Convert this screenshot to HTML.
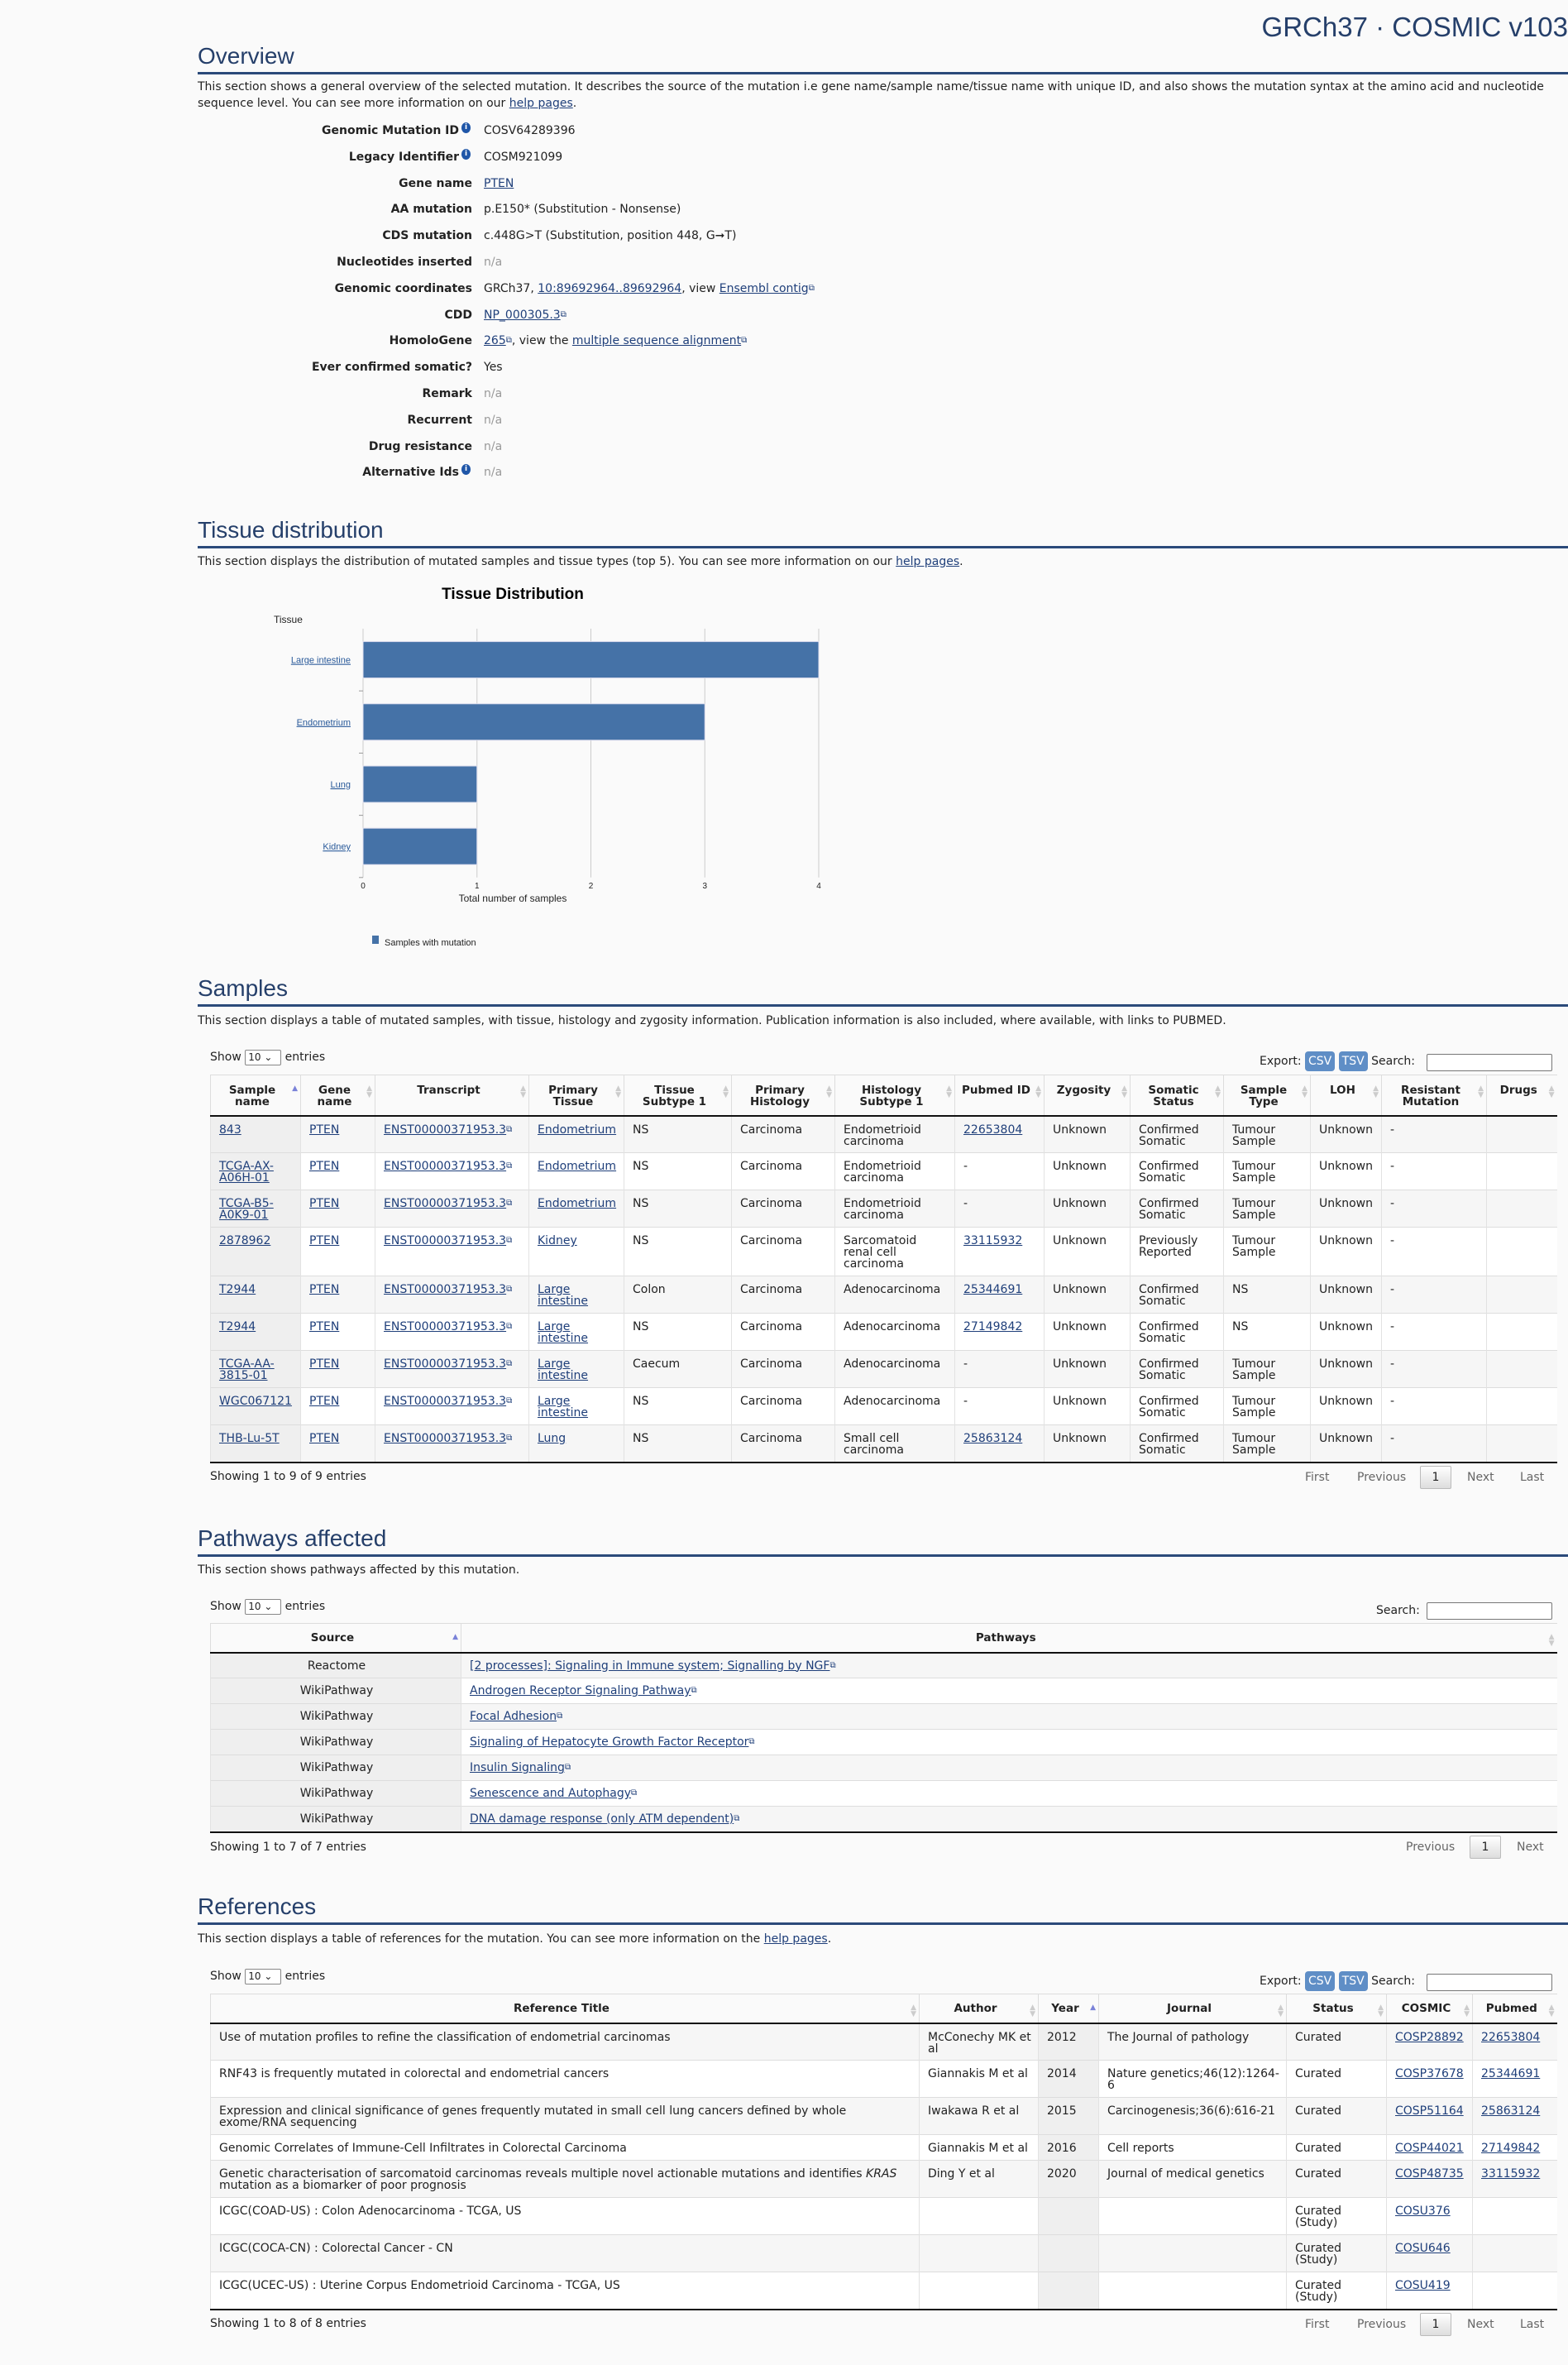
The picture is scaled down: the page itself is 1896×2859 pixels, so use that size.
<!DOCTYPE html>
<html><head><meta charset="utf-8"><style>
*{box-sizing:border-box;margin:0;padding:0}
body{width:1896px;height:2859px;background:#fafafa;font-family:"DejaVu Sans","Liberation Sans",sans-serif;font-size:14px;color:#222;position:relative;overflow:hidden}
a{color:#1f3f7a;text-decoration:underline}
.abs{position:absolute}
.h2{position:absolute;left:239px;width:1657px;height:40px;border-bottom:3px solid #2b4a7a;font-family:"Liberation Sans",sans-serif;font-size:28px;line-height:36px;color:#253f6a}
.desc{position:absolute;left:239px;width:1650px;line-height:20px}
.lab{position:absolute;width:340px;left:231px;text-align:right;font-weight:bold;line-height:20px}
.val{position:absolute;left:585px;line-height:20px}
.na{color:#999}
.info{display:inline-block;width:11px;height:13px;border-radius:50%;background:#1f56a8;color:#fff;font-size:9px;line-height:13px;text-align:center;vertical-align:top;margin-left:3px;font-weight:bold}
.ext{font-size:10px;vertical-align:top;color:#1f3f7a;text-decoration:none}
table{position:absolute;left:254px;width:1628px;border-collapse:collapse;table-layout:fixed;line-height:14px}
th{font-weight:bold;text-align:center;vertical-align:top;padding:11px 14px 0 6px;border-left:1px solid #ddd;border-top:1px solid #ddd;border-bottom:2px solid #111;position:relative;font-size:13.5px}
th .s{position:absolute;right:3px;top:12px;color:#ccc;font-size:9px;line-height:8px}
td{vertical-align:top;padding:9px 8px 0 10px;border-left:1px solid #e2e2e2;border-top:1px solid #ddd;overflow:hidden}
tr.odd td{background:#f6f6f6}
tr.even td{background:#fff}
td.srt{background:#efefef !important}
tr.last td{border-bottom:2px solid #111}
.ctl{position:absolute;line-height:20px}
.sel{display:inline-block;width:44px;height:19px;border:1px solid #888;border-radius:2px;vertical-align:middle;font-size:12px;line-height:17px;padding-left:3px;background:#fff}
.btn{display:inline-block;background:#5f8ec6;color:#fff;border-radius:4px;padding:0 4px;height:24px;line-height:24px;font-size:14px}
.search{position:absolute;width:152px;height:21px;border:1px solid #777;background:#fff;border-radius:2px}
.pg{position:absolute;color:#666;line-height:20px}
.pgb{position:absolute;width:38px;height:28px;border:1px solid #bbb;background:linear-gradient(#fff,#ddd);text-align:center;line-height:26px;border-radius:2px}
</style></head><body>

<div class="abs" style="right:0;top:14px;font-family:'Liberation Sans',sans-serif;font-size:33px;color:#253f6a;white-space:nowrap">GRCh37 · COSMIC v103</div>

<div class="h2" style="top:50px">Overview</div>
<div class="desc" style="top:95px">This section shows a general overview of the selected mutation. It describes the source of the mutation i.e gene name/sample name/tissue name with unique ID, and also shows the mutation syntax at the amino acid and nucleotide sequence level. You can see more information on our <a href="#">help pages</a>.</div>

<div id="ov"></div>

<div class="h2" style="top:623px">Tissue distribution</div>
<div class="desc" style="top:669px">This section displays the distribution of mutated samples and tissue types (top 5). You can see more information on our <a href="#">help pages</a>.</div>

<svg id="chart" class="abs" style="left:0;top:0" width="1896" height="1180" font-family="Liberation Sans, sans-serif"></svg>

<div class="h2" style="top:1177px">Samples</div>
<div class="desc" style="top:1224px">This section displays a table of mutated samples, with tissue, histology and zygosity information. Publication information is also included, where available, with links to PUBMED.</div>
<div class="ctl" style="left:254px;top:1268px">Show <span class="sel">10 ⌄</span> entries</div>
<div class="ctl" style="left:1523px;top:1271px">Export: <span class="btn">CSV</span> <span class="btn">TSV</span> Search:</div>
<div class="search" style="left:1725px;top:1274px"></div>
<table id="samples" style="top:1299px"></table>
<div class="ctl" style="left:254px;top:1775px">Showing 1 to 9 of 9 entries</div>
<div class="pg" style="left:1578px;top:1776px">First</div>
<div class="pg" style="left:1641px;top:1776px">Previous</div>
<div class="pgb" style="left:1717px;top:1772px">1</div>
<div class="pg" style="left:1774px;top:1776px">Next</div>
<div class="pg" style="left:1838px;top:1776px">Last</div>

<div class="h2" style="top:1842px">Pathways affected</div>
<div class="desc" style="top:1888px">This section shows pathways affected by this mutation.</div>
<div class="ctl" style="left:254px;top:1932px">Show <span class="sel">10 ⌄</span> entries</div>
<div class="ctl" style="left:1664px;top:1937px">Search:</div>
<div class="search" style="left:1725px;top:1937px"></div>
<table id="pathways" style="top:1962px"></table>
<div class="ctl" style="left:254px;top:2223px">Showing 1 to 7 of 7 entries</div>
<div class="pg" style="left:1700px;top:2223px">Previous</div>
<div class="pgb" style="left:1777px;top:2219px">1</div>
<div class="pg" style="left:1834px;top:2223px">Next</div>

<div class="h2" style="top:2287px">References</div>
<div class="desc" style="top:2334px">This section displays a table of references for the mutation. You can see more information on the <a href="#">help pages</a>.</div>
<div class="ctl" style="left:254px;top:2379px">Show <span class="sel">10 ⌄</span> entries</div>
<div class="ctl" style="left:1523px;top:2383px">Export: <span class="btn">CSV</span> <span class="btn">TSV</span> Search:</div>
<div class="search" style="left:1725px;top:2386px"></div>
<table id="refs" style="top:2410px"></table>
<div class="ctl" style="left:254px;top:2799px">Showing 1 to 8 of 8 entries</div>
<div class="pg" style="left:1578px;top:2800px">First</div>
<div class="pg" style="left:1641px;top:2800px">Previous</div>
<div class="pgb" style="left:1717px;top:2796px">1</div>
<div class="pg" style="left:1774px;top:2800px">Next</div>
<div class="pg" style="left:1838px;top:2800px">Last</div>

<script>
// ---------- Overview ----------
const ovLabels=["Genomic Mutation ID","Legacy Identifier","Gene name","AA mutation","CDS mutation","Nucleotides inserted","Genomic coordinates","CDD","HomoloGene","Ever confirmed somatic?","Remark","Recurrent","Drug resistance","Alternative Ids"];
const ovInfo=[1,1,0,0,0,0,0,0,0,0,0,0,0,1];
const X='<span class="ext">⧉</span>';
const ovValues=["COSV64289396","COSM921099",'<a href="#">PTEN</a>',"p.E150* (Substitution - Nonsense)","c.448G&gt;T (Substitution, position 448, G➞T)",'<span class="na">n/a</span>','GRCh37, <a href="#">10:89692964..89692964</a>, view <a href="#">Ensembl contig</a>'+X,'<a href="#">NP_000305.3</a>'+X,'<a href="#">265</a>'+X+', view the <a href="#">multiple sequence alignment</a>'+X,"Yes",'<span class="na">n/a</span>','<span class="na">n/a</span>','<span class="na">n/a</span>','<span class="na">n/a</span>'];
const ov=document.getElementById('ov');
ovLabels.forEach((l,i)=>{
  const y=148+i*31.8;
  const a=document.createElement('div');a.className='lab';a.style.top=y+'px';
  a.innerHTML=l+(ovInfo[i]?'<span class="info">i</span><span style="display:inline-block;width:2px"></span>':'');
  
  
  ov.appendChild(a);
  const v=document.createElement('div');v.className='val';v.style.top=y+'px';v.innerHTML=ovValues[i];
  
  
  ov.appendChild(v);
});

// ---------- Chart ----------
const tissues=["Large intestine","Endometrium","Lung","Kidney"];
const counts=[4,3,1,1];
const xTicks=[0,1,2,3,4];
const NS='http://www.w3.org/2000/svg';
const svg=document.getElementById('chart');
const x0=439,x1=990,xMax=4,plotTop=760,band=75.2,barH=44;
const xs=v=>x0+(x1-x0)*v/xMax;
const ys=i=>plotTop+band*i;
function mk(t,attrs,txt){const e=document.createElementNS(NS,t);for(const k in attrs)e.setAttribute(k,attrs[k]);if(txt!==undefined)e.textContent=txt;svg.appendChild(e);return e;}
let e;
e=mk('text',{x:620,y:724,'text-anchor':'middle','font-size':19,'font-weight':'bold',fill:'#000'},'Tissue Distribution');


e=mk('text',{x:331,y:753,'font-size':12,fill:'#222'},'Tissue');


xTicks.forEach(t=>{
  e=mk('line',{x1:xs(t),x2:xs(t),y1:plotTop,y2:ys(tissues.length),stroke:'#ccc','stroke-width':1});
  
  
  e=mk('text',{x:xs(t),y:1074,'text-anchor':'middle','font-size':10,fill:'#222'},String(t));
  
  
});
tissues.forEach((c,i)=>{
  const yb=ys(i)+(band-barH)/2;
  e=mk('rect',{x:xs(0),y:yb,width:xs(counts[i])-xs(0),height:barH,fill:'#4572a7',stroke:'#dde','stroke-width':1});
  
  
  e=mk('text',{x:424,y:yb+barH/2+4,'text-anchor':'end','font-size':11,fill:'#2a5a9a','text-decoration':'underline'},c);
  
  
  e=mk('line',{x1:x0-5,x2:x0,y1:ys(i+1),y2:ys(i+1),stroke:'#999'});
  
  
});
e=mk('text',{x:620,y:1090,'text-anchor':'middle','font-size':12,fill:'#222'},'Total number of samples');


e=mk('rect',{x:450,y:1131,width:8,height:10,fill:'#4572a7'});


e=mk('text',{x:465,y:1143,'font-size':11,fill:'#222'},'Samples with mutation');



// ---------- Tables ----------
function buildTable(id,name,widths,heads,headH,rows,heights,linkCols,sortCol,centerCols){
  const t=document.getElementById(id);
  
  
  const cg=document.createElement('colgroup');
  widths.forEach(w=>{const c=document.createElement('col');c.style.width=w+'px';cg.appendChild(c);});
  t.appendChild(cg);
  const hr=document.createElement('tr');hr.style.height=headH+'px';
  heads.forEach((h,j)=>{const th=document.createElement('th');th.innerHTML=h+'<span class="s">'+(j===sortCol?'<span style="color:#7a82d8">▲</span><br>':'▲<br>▼')+'</span>';
    
    
    hr.appendChild(th);});
  t.appendChild(hr);
  rows.forEach((r,i)=>{
    const tr=document.createElement('tr');tr.className=(i%2?'even':'odd')+(i===rows.length-1?' last':'');
    tr.style.height=heights[i]+'px';
    
    
    r.forEach((v,j)=>{const td=document.createElement('td');
      if(j===sortCol)td.className='srt';
      if(centerCols&&centerCols.includes(j)){td.style.textAlign='center';}
      td.innerHTML=(linkCols[j]&&v!=='-'&&v!=='')?'<a href="#">'+v+'</a>'+(linkCols[j]===2?X:''):v;
      
      
      tr.appendChild(td);});
    t.appendChild(tr);
  });
}
const E='ENST00000371953.3';
const sampleRows=[
["843","PTEN",E,"Endometrium","NS","Carcinoma","Endometrioid carcinoma","22653804","Unknown","Confirmed Somatic","Tumour Sample","Unknown","-",""],
["TCGA-AX-A06H-01","PTEN",E,"Endometrium","NS","Carcinoma","Endometrioid carcinoma","-","Unknown","Confirmed Somatic","Tumour Sample","Unknown","-",""],
["TCGA-B5-A0K9-01","PTEN",E,"Endometrium","NS","Carcinoma","Endometrioid carcinoma","-","Unknown","Confirmed Somatic","Tumour Sample","Unknown","-",""],
["2878962","PTEN",E,"Kidney","NS","Carcinoma","Sarcomatoid renal cell carcinoma","33115932","Unknown","Previously Reported","Tumour Sample","Unknown","-",""],
["T2944","PTEN",E,"Large intestine","Colon","Carcinoma","Adenocarcinoma","25344691","Unknown","Confirmed Somatic","NS","Unknown","-",""],
["T2944","PTEN",E,"Large intestine","NS","Carcinoma","Adenocarcinoma","27149842","Unknown","Confirmed Somatic","NS","Unknown","-",""],
["TCGA-AA-3815-01","PTEN",E,"Large intestine","Caecum","Carcinoma","Adenocarcinoma","-","Unknown","Confirmed Somatic","Tumour Sample","Unknown","-",""],
["WGC067121","PTEN",E,"Large intestine","NS","Carcinoma","Adenocarcinoma","-","Unknown","Confirmed Somatic","Tumour Sample","Unknown","-",""],
["THB-Lu-5T","PTEN",E,"Lung","NS","Carcinoma","Small cell carcinoma","25863124","Unknown","Confirmed Somatic","Tumour Sample","Unknown","-",""]];
buildTable('samples','samples-table',[109,90,186,115,130,125,145,108,104,113,105,86,127,85],
["Sample name","Gene name","Transcript","Primary Tissue","Tissue Subtype 1","Primary Histology","Histology Subtype 1","Pubmed ID","Zygosity","Somatic Status","Sample Type","LOH","Resistant Mutation","Drugs"],49,
sampleRows,[45,45,45,59,45,45,45,45,45],[1,1,2,1,0,0,0,1,0,0,0,0,0,0],0);

const pathSources=["Reactome","WikiPathway","WikiPathway","WikiPathway","WikiPathway","WikiPathway","WikiPathway"];
const pathNames=["[2 processes]: Signaling in Immune system; Signalling by NGF","Androgen Receptor Signaling Pathway","Focal Adhesion","Signaling of Hepatocyte Growth Factor Receptor","Insulin Signaling","Senescence and Autophagy","DNA damage response (only ATM dependent)"];
buildTable('pathways','pathways-table',[303,1325],["Source","Pathways"],35,
pathSources.map((s,i)=>[s,pathNames[i]]),[31,31,31,31,31,31,31],[0,2],0,[0]);
document.querySelectorAll('#pathways td').forEach(td=>{td.style.paddingTop='8px';});
document.querySelectorAll('#pathways th').forEach(th=>{th.style.paddingTop='10px';});

const refRows=[
["Use of mutation profiles to refine the classification of endometrial carcinomas","McConechy MK et al","2012","The Journal of pathology","Curated","COSP28892","22653804"],
["RNF43 is frequently mutated in colorectal and endometrial cancers","Giannakis M et al","2014","Nature genetics;46(12):1264-6","Curated","COSP37678","25344691"],
["Expression and clinical significance of genes frequently mutated in small cell lung cancers defined by whole exome/RNA sequencing","Iwakawa R et al","2015","Carcinogenesis;36(6):616-21","Curated","COSP51164","25863124"],
["Genomic Correlates of Immune-Cell Infiltrates in Colorectal Carcinoma","Giannakis M et al","2016","Cell reports","Curated","COSP44021","27149842"],
["Genetic characterisation of sarcomatoid carcinomas reveals multiple novel actionable mutations and identifies <i>KRAS</i> mutation as a biomarker of poor prognosis","Ding Y et al","2020","Journal of medical genetics","Curated","COSP48735","33115932"],
["ICGC(COAD-US) : Colon Adenocarcinoma - TCGA, US","","","","Curated (Study)","COSU376",""],
["ICGC(COCA-CN) : Colorectal Cancer - CN","","","","Curated (Study)","COSU646",""],
["ICGC(UCEC-US) : Uterine Corpus Endometrioid Carcinoma - TCGA, US","","","","Curated (Study)","COSU419",""]];
buildTable('refs','references-table',[857,144,73,227,121,104,102],["Reference Title","Author","Year","Journal","Status","COSMIC","Pubmed"],35,
refRows,[45,45,45,31,45,45,45,45],[0,0,0,0,0,1,1],2);
document.querySelectorAll('#refs th').forEach(th=>{th.style.paddingTop='10px';});
</script>
</body></html>
